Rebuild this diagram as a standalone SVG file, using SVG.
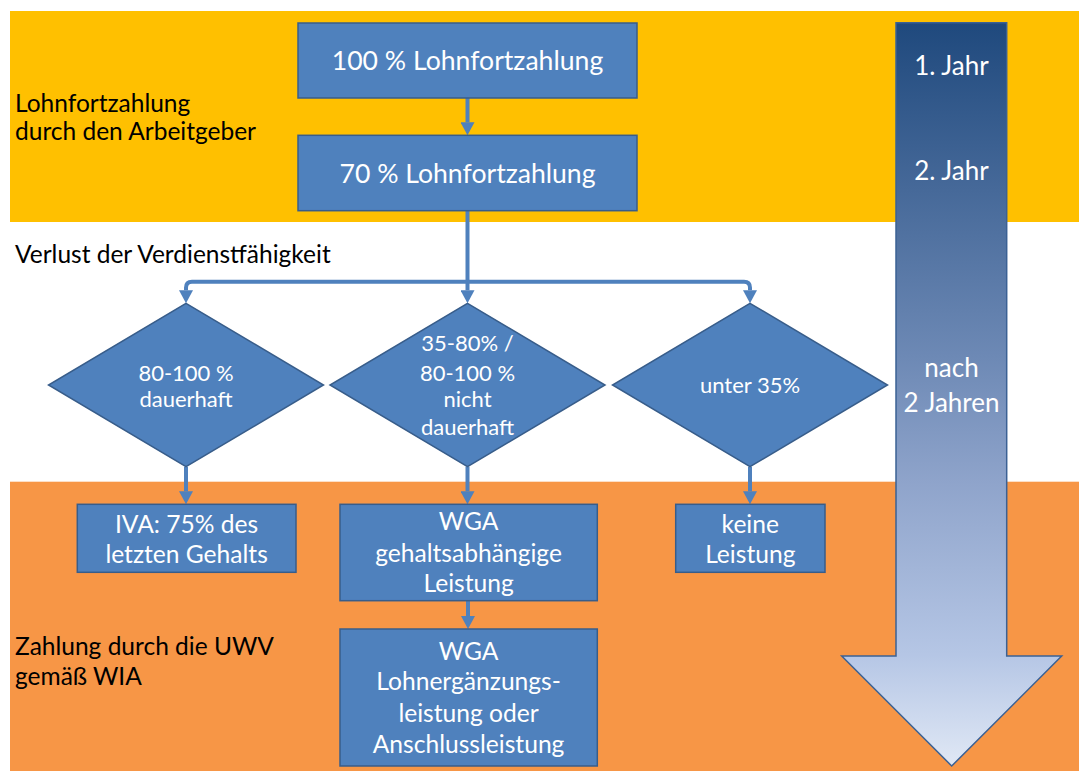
<svg xmlns="http://www.w3.org/2000/svg" width="1079" height="771" viewBox="0 0 1079 771">
<style>
.lbl{font-family:Lato,"Open Sans","Liberation Sans",sans-serif;font-size:24.5px;fill:#000}
.box{fill:#4F81BD;stroke:#385D8A;stroke-width:1.5}
.t{font-family:Lato,"Open Sans","Liberation Sans",sans-serif;font-size:24.6px;fill:#fff;text-anchor:middle}
.tb{font-size:26.6px}
.td{font-size:22px}
.ta{font-size:26px}
.conn{fill:none;stroke:#4F81BD;stroke-width:4;marker-end:url(#ah)}
</style>
<defs>
<marker id="ah" markerUnits="userSpaceOnUse" markerWidth="14" markerHeight="14" refX="0" refY="7" orient="auto">
<path d="M0,0 L13,7 L0,14 Z" fill="#4F81BD"/>
</marker>
<linearGradient id="gr" x1="0" y1="0" x2="0" y2="1">
<stop offset="0" stop-color="#1F497D"/>
<stop offset="0.45" stop-color="#6D89B5"/>
<stop offset="0.62" stop-color="#8FA4CB"/>
<stop offset="0.85" stop-color="#B5C6E5"/>
<stop offset="1" stop-color="#E0E8F5"/>
</linearGradient>
</defs>
<rect width="1079" height="771" fill="#fff"/>
<g id="bands">
<rect x="10" y="11" width="1069" height="211" fill="#FFC000"/>
<rect x="10" y="481.7" width="1069" height="289.3" fill="#F79646"/>
</g>
<g id="labels">
<text class="lbl" x="15" y="111.7">Lohnfortzahlung</text>
<text class="lbl" x="15" y="140">durch den Arbeitgeber</text>
<text class="lbl" x="15" y="262.7">Verlust der Verdienstfähigkeit</text>
<text class="lbl" x="15" y="655">Zahlung durch die UWV</text>
<text class="lbl" x="15" y="685">gemäß WIA</text>
</g>
<g id="timeline">
<path d="M896,22.7 H1006.7 V656 H1061.7 L951.7,766 L841.7,656 H896 Z" fill="url(#gr)" stroke="#3B6194" stroke-width="1.5"/>
<text class="t ta" x="951.5" y="75">1. Jahr</text>
<text class="t ta" x="951.5" y="180">2. Jahr</text>
<text class="t ta" x="951.5" y="376.7">nach</text>
<text class="t ta" x="951.5" y="411.7">2 Jahren</text>
</g>
<g id="connectors">
<path class="conn" d="M467.5,98 V122.3"/>
<path class="conn" d="M467.5,210.7 V290.3"/>
<path class="conn" d="M467.5,281.7 H192 Q186,281.7 186,287.7 V290.3"/>
<path class="conn" d="M467.5,281.7 H744 Q750,281.7 750,287.7 V290.3"/>
<path class="conn" d="M186,466.7 V491.3"/>
<path class="conn" d="M467.5,466.7 V491.3"/>
<path class="conn" d="M750,466.7 V491.3"/>
<path class="conn" d="M468,600.7 V616"/>
</g>
<g id="n100">
<rect class="box" x="298" y="23" width="339" height="75"/>
<text class="t tb" x="467.5" y="70">100 % Lohnfortzahlung</text>
</g>
<g id="n70">
<rect class="box" x="298" y="135.3" width="339" height="75.4"/>
<text class="t tb" x="467.5" y="182.7">70 % Lohnfortzahlung</text>
</g>
<g id="d1">
<polygon class="box" points="186,303.3 323.5,385 186,466.7 48.5,385"/>
<text class="t td" x="186" y="380.7">80-100 %</text>
<text class="t td" x="186" y="407.3">dauerhaft</text>
</g>
<g id="d2">
<polygon class="box" points="467.5,303.3 605,385 467.5,466.7 330,385"/>
<text class="t td" x="467.5" y="350.7">35-80% /</text>
<text class="t td" x="467.5" y="380.7">80-100 %</text>
<text class="t td" x="467.5" y="407.3">nicht</text>
<text class="t td" x="467.5" y="435">dauerhaft</text>
</g>
<g id="d3">
<polygon class="box" points="750,303.3 887.5,385 750,466.7 612.5,385"/>
<text class="t td" x="750" y="393.3">unter 35%</text>
</g>
<g id="iva">
<rect class="box" x="77.3" y="504.3" width="218.7" height="68"/>
<text class="t" x="186.6" y="532.7">IVA: 75% des</text>
<text class="t" x="186.6" y="562.7">letzten Gehalts</text>
</g>
<g id="wga1">
<rect class="box" x="340" y="504.3" width="257.3" height="96.4"/>
<text class="t" x="468.6" y="530">WGA</text>
<text class="t" x="468.6" y="561.7">gehaltsabhängige</text>
<text class="t" x="468.6" y="591.7">Leistung</text>
</g>
<g id="wga2">
<rect class="box" x="340" y="629" width="257.3" height="137"/>
<text class="t" x="468.6" y="660">WGA</text>
<text class="t" x="468.6" y="690">Lohnergänzungs-</text>
<text class="t" x="468.6" y="721.7">leistung oder</text>
<text class="t" x="468.6" y="753.3">Anschlussleistung</text>
</g>
<g id="keine">
<rect class="box" x="675.7" y="504.3" width="149.3" height="68"/>
<text class="t" x="750.3" y="532.7">keine</text>
<text class="t" x="750.3" y="562.7">Leistung</text>
</g>
</svg>
